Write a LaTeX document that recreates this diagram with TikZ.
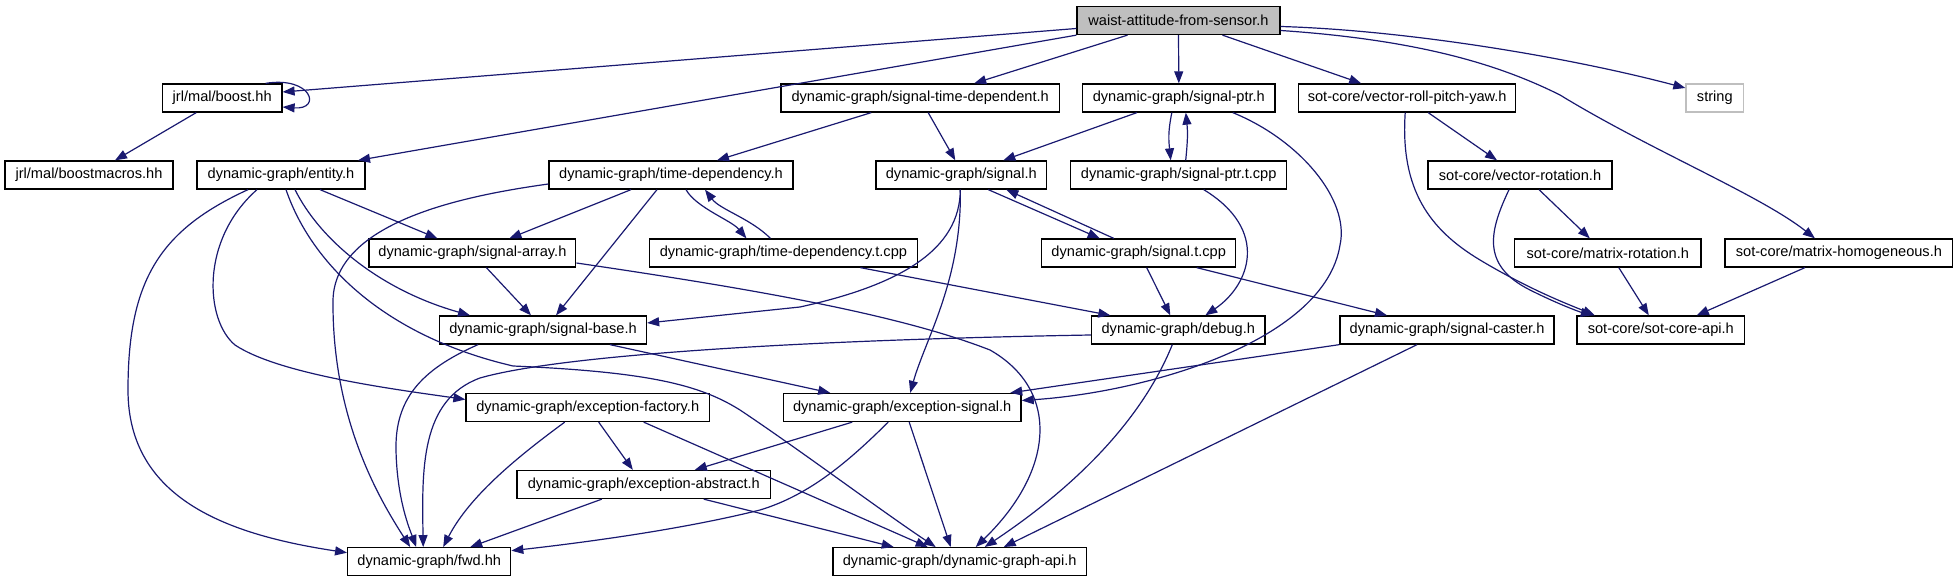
\documentclass[tikz,border=0pt]{standalone}
\usepackage{fontspec}
\setmainfont{Liberation Sans}
\usetikzlibrary{arrows.meta,calc}
\definecolor{edgeblue}{HTML}{191970}
\definecolor{rootgray}{HTML}{BFBFBF}
\definecolor{extgray}{HTML}{BFBFBF}
\begin{document}
\begin{tikzpicture}[x=0.5pt,y=-0.5pt,
  box/.style={draw=black, line width=0.65pt, fill=white, inner sep=0pt, minimum height=14pt, font=\fontsize{7.3}{8}\selectfont},
  rootbox/.style={box, fill=rootgray},
  extbox/.style={box, draw=extgray},
  edge/.style={draw=edgeblue, line width=0.6pt, -{Triangle[length=6pt,width=4.5pt]}},
]
\useasboundingbox (0,0) rectangle (1957,581);
% row 0
\node[rootbox, minimum width=101.5pt] (waist) at (1178.5,20.5) {waist-attitude-from-sensor.h};
% row 1
\node[box, minimum width=59.75pt] (boost) at (222.2,98) {jrl/mal/boost.hh};
\node[box, minimum width=139.25pt] (sigtd) at (920.2,98) {dynamic-graph/signal-time-dependent.h};
\node[box, minimum width=96.15pt] (sigptr) at (1178.8,98) {dynamic-graph/signal-ptr.h};
\node[box, minimum width=108.5pt] (vrpy) at (1407.2,98) {sot-core/vector-roll-pitch-yaw.h};
\node[extbox, minimum width=28.8pt] (string) at (1714.8,98) {string};
% row 2
\node[box, minimum width=84pt] (boostmacros) at (89,175) {jrl/mal/boostmacros.hh};
\node[box, minimum width=84pt] (entity) at (281,175) {dynamic-graph/entity.h};
\node[box, minimum width=122pt] (timedep) at (671,175) {dynamic-graph/time-dependency.h};
\node[box, minimum width=85.3pt] (signal) at (961.3,175) {dynamic-graph/signal.h};
\node[box, minimum width=108pt] (sigptrt) at (1178.7,175) {dynamic-graph/signal-ptr.t.cpp};
\node[box, minimum width=92pt] (vrot) at (1520,175) {sot-core/vector-rotation.h};
% row 3
\node[box, minimum width=103.4pt] (sigarr) at (472.4,253) {dynamic-graph/signal-array.h};
\node[box, minimum width=134pt] (tdt) at (783.4,253) {dynamic-graph/time-dependency.t.cpp};
\node[box, minimum width=97pt] (sigt) at (1138.7,253) {dynamic-graph/signal.t.cpp};
\node[box, minimum width=93.25pt] (mrot) at (1607.8,253) {sot-core/matrix-rotation.h};
\node[box, minimum width=113.85pt] (mhom) at (1838.9,253) {sot-core/matrix-homogeneous.h};
% row 4
\node[box, minimum width=103.5pt] (sigbase) at (543,330) {dynamic-graph/signal-base.h};
\node[box, minimum width=86.75pt] (debug) at (1178.3,330) {dynamic-graph/debug.h};
\node[box, minimum width=107pt] (caster) at (1447,330) {dynamic-graph/signal-caster.h};
\node[box, minimum width=83.75pt] (api) at (1660.8,330) {sot-core/sot-core-api.h};
% row 5
\node[box, minimum width=121.65pt] (excfac) at (587.7,407.5) {dynamic-graph/exception-factory.h};
\node[box, minimum width=118.85pt] (excsig) at (902.2,407.5) {dynamic-graph/exception-signal.h};
% row 6
\node[box, minimum width=126.85pt] (excabs) at (643.8,484.5) {dynamic-graph/exception-abstract.h};
% row 7
\node[box, minimum width=81.5pt] (fwd) at (429.2,561.7) {dynamic-graph/fwd.hh};
\node[box, minimum width=126.7pt] (dgapi) at (959.7,561.7) {dynamic-graph/dynamic-graph-api.h};

% edges from waist
\draw[edge] ($(waist.west)+(0,8)$) -- ($(boost.east)+(0,-6)$);
\draw[edge] (waist.south west) -- ($(entity.north)+(77,0)$);
\draw[edge] ($(waist.south)+(-51,0)$) -- ($(sigtd.north)+(54,0)$);
\draw[edge] (waist.south) -- (sigptr.north);
\draw[edge] ($(waist.south)+(44,0)$) -- ($(vrpy.north)+(-46,0)$);
\draw[edge] ($(waist.east)+(0,6)$) .. controls (1400,30) and (1560,55) .. ($(string.west)+(0,-10)$);
\draw[edge] ($(waist.east)+(0,10)$) .. controls (1420,40) and (1500,65) .. (1560,95) .. controls (1650,150) and (1760,195) .. ($(mhom.north)+(-24,0)$);
% boost
\draw[edge] ($(boost.north east)+(-17,0)$) .. controls (312,76) and (322,110) .. ($(boost.east)+(0,9)$);
\draw[edge] ($(boost.south)+(-26,0)$) -- ($(boostmacros.north)+(26,0)$);
% signal-time-dependent
\draw[edge] ($(sigtd.south)+(-49,0)$) -- ($(timedep.north)+(46,0)$);
\draw[edge] ($(sigtd.south)+(8,0)$) -- ($(signal.north)+(-6,0)$);
% signal-ptr
\draw[edge] ($(sigptr.south)+(-42,0)$) -- ($(signal.north)+(42,0)$);
\draw[edge] ($(sigptr.south)+(-7,0)$) .. controls +(-4,20) and +(-2,-20) .. ($(sigptrt.north)+(-8,0)$);
\draw[edge] ($(sigptr.south)+(54,0)$) .. controls (1300,140) and (1350,200) .. (1340,245) .. controls (1325,340) and (1150,392) .. ($(excsig.east)+(0,-7)$);
% signal-ptr.t.cpp
\draw[edge] ($(sigptrt.north)+(7,0)$) .. controls +(2,-20) and +(2,20) .. ($(sigptr.south)+(7,0)$);
\draw[edge] ($(sigptrt.south)+(25,0)$) .. controls (1270,230) and (1250,285) .. ($(debug.north)+(27,0)$);
% vector-roll-pitch-yaw
\draw[edge] ($(vrpy.south)+(21,0)$) -- ($(vrot.north)+(-23,0)$);
\draw[edge] ($(vrpy.south)+(-2,0)$) .. controls (1400,190) and (1430,230) .. (1480,260) .. controls (1530,290) and (1570,305) .. ($(api.north)+(-66,0)$);
% vector-rotation
\draw[edge] ($(vrot.south)+(19,0)$) -- ($(mrot.north)+(-18,0)$);
\draw[edge] ($(vrot.south)+(-11,0)$) .. controls (1490,230) and (1480,265) .. (1530,290) .. controls (1560,305) and (1580,312) .. ($(api.north)+(-68,0)$);
\draw[edge] ($(mrot.south)+(11,0)$) -- ($(api.north)+(-12,0)$);
\draw[edge] ($(mhom.south)+(-34,0)$) -- ($(api.north)+(36,0)$);
% entity
\draw[edge] ($(entity.south)+(-33,0)$) .. controls (160,230) and (128,280) .. (128,390) .. controls (128,500) and (230,535) .. ($(fwd.west)+(0,-9)$);
\draw[edge] ($(entity.south)+(-24,0)$) .. controls (200,240) and (205,320) .. (235,345) .. controls (280,375) and (400,390) .. ($(excfac.west)+(0,-8)$);
\draw[edge] ($(entity.south)+(5,0)$) .. controls (310,260) and (380,335) .. (513,366) .. controls (650,372) and (700,385) .. (740,410) .. controls (800,450) and (880,510) .. ($(dgapi.north)+(-24,0)$);
\draw[edge] ($(entity.south)+(14,0)$) .. controls (320,240) and (380,290) .. ($(sigbase.north)+(-73,0)$);
\draw[edge] ($(entity.south)+(39,0)$) -- ($(sigarr.north)+(-35,0)$);
% time-dependency
\draw[edge] ($(timedep.south)+(15,0)$) .. controls +(10,18) and +(-15,-18) .. ($(tdt.north)+(-37,0)$);
\draw[edge] ($(timedep.south)+(-40,0)$) -- ($(sigarr.north)+(37,0)$);
\draw[edge] ($(timedep.south)+(-14,0)$) -- ($(sigbase.north)+(13,0)$);
\draw[edge] ($(timedep.west)+(0,9)$) .. controls (470,195) and (335,220) .. (333,300) .. controls (332,420) and (380,500) .. ($(fwd.north)+(-19,0)$);
% time-dependency.t.cpp
\draw[edge] ($(tdt.north)+(-13,0)$) .. controls +(-20,-20) and +(15,20) .. ($(timedep.south)+(34,0)$);
\draw[edge] ($(tdt.south)+(77,0)$) -- ($(debug.north)+(-68,0)$);
% signal
\draw[edge] ($(signal.south)+(27,0)$) -- ($(sigt.north)+(-39,0)$);
\draw[edge] ($(signal.south)+(-1,0)$) .. controls (960,250) and (900,285) .. (800,307) -- ($(sigbase.east)+(0,-7)$);
\draw[edge] ($(signal.south)+(-1,0)$) .. controls (962,280) and (925,340) .. ($(excsig.north)+(8,0)$);
% signal.t.cpp
\draw[edge] ($(sigt.north)+(-25,0)$) -- ($(signal.south)+(45,0)$);
\draw[edge] ($(sigt.south)+(8,0)$) -- ($(debug.north)+(-8,0)$);
\draw[edge] ($(sigt.south)+(58,0)$) -- ($(caster.north)+(-60,0)$);
% signal-array
\draw[edge] ($(sigarr.south)+(14,0)$) -- ($(sigbase.north)+(-12,0)$);
\draw[edge] ($(sigarr.east)+(0,10)$) .. controls (760,290) and (900,315) .. (990,350) .. controls (1060,390) and (1055,470) .. ($(dgapi.north)+(16,0)$);
% signal-base
\draw[edge] ($(sigbase.south)+(-65,0)$) .. controls (420,370) and (395,400) .. (396,450) .. controls (397,500) and (410,530) .. ($(fwd.north)+(-13,0)$);
\draw[edge] ($(sigbase.south)+(67,0)$) -- ($(excsig.north)+(-72,0)$);
% debug
\draw[edge] ($(debug.west)+(0,5)$) .. controls (800,340) and (560,355) .. (480,378) .. controls (420,400) and (422,470) .. ($(fwd.north)+(-6,0)$);
\draw[edge] ($(debug.south)+(-6,0)$) .. controls (1150,400) and (1100,470) .. ($(dgapi.north)+(25,0)$);
% signal-caster
\draw[edge] (caster.south west) -- ($(excsig.north)+(108,0)$);
\draw[edge] ($(caster.south)+(-30,0)$) -- ($(dgapi.north)+(44,0)$);
% exception-factory
\draw[edge] ($(excfac.south)+(-23,0)$) .. controls (520,455) and (470,495) .. ($(fwd.north)+(14,0)$);
\draw[edge] ($(excfac.south)+(11,0)$) -- ($(excabs.north)+(-11,0)$);
\draw[edge] ($(excfac.south)+(56,0)$) -- ($(dgapi.north)+(-32,0)$);
% exception-abstract
\draw[edge] ($(excabs.south)+(-42,0)$) -- ($(fwd.north)+(41,0)$);
\draw[edge] ($(excabs.south)+(60,0)$) -- ($(dgapi.north)+(-66,0)$);
% exception-signal
\draw[edge] ($(excsig.south)+(-50,0)$) -- ($(excabs.north)+(51,0)$);
\draw[edge] ($(excsig.south)+(-14,0)$) .. controls (850,460) and (810,495) .. (760,510) .. controls (680,530) and (580,543) .. ($(fwd.east)+(0,-11)$);
\draw[edge] ($(excsig.south)+(7,0)$) -- ($(dgapi.north)+(-9,0)$);
\end{tikzpicture}
\end{document}
